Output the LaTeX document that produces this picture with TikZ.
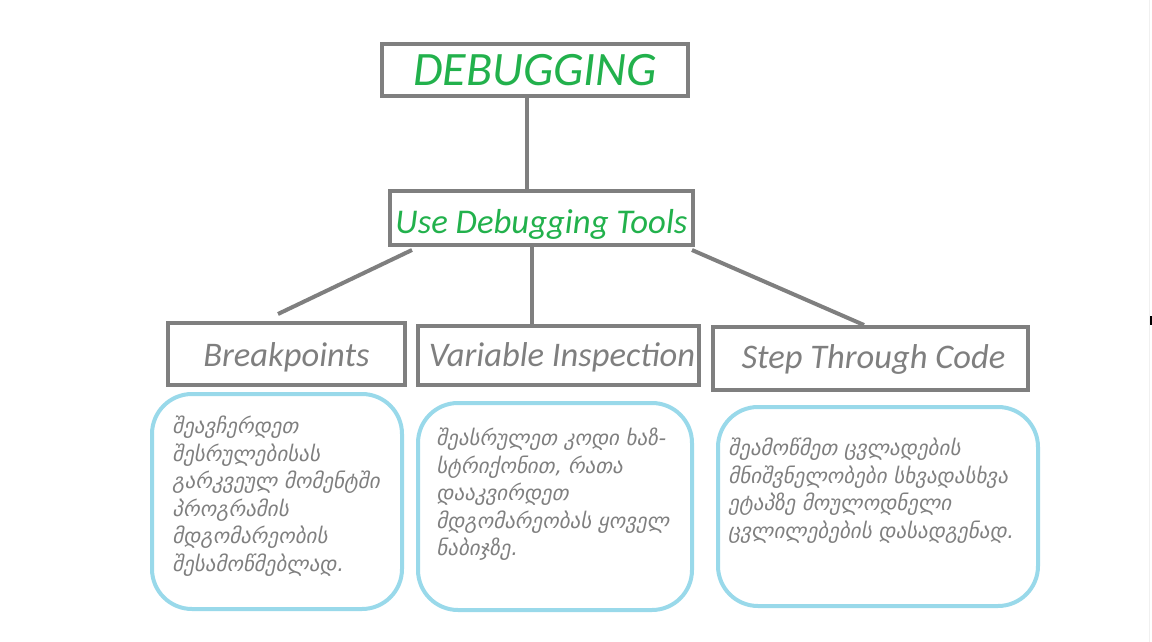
\documentclass[tikz,border=0pt]{standalone}
\usepackage{fontspec}
\setmainfont{Carlito}
\newfontfamily\geofont{DejaVu Sans}[FakeSlant=0.2]
\usetikzlibrary{calc}
\definecolor{framegray}{HTML}{7F7F7F}
\definecolor{titlegreen}{HTML}{22B14C}
\definecolor{noteblue}{HTML}{99D9EA}
\newcommand{\placenote}[4]{%
  \node[notebox, minimum width=#3, minimum height=#4] (#1) at #2 {};
}
\begin{document}
\begin{tikzpicture}[x=1pt, y=-1pt,
  framebox/.style={draw=framegray, line width=4pt, rectangle, inner sep=0pt, text depth=0pt},
  stepbox/.style={framebox, text=framegray, font=\fontsize{34.5}{40}\selectfont\itshape},
  notebox/.style={draw=noteblue, line width=4pt, rectangle, rounded corners=40pt, inner sep=0pt},
  notetext/.style={anchor=north west, align=left, inner sep=0pt, text=framegray,
    font=\geofont\fontsize{21}{27.5}\selectfont},
  link/.style={draw=framegray, line width=4pt}]

  \useasboundingbox (0,0) rectangle (1152,642);

  % Title and the tools box below it
  \node[framebox, minimum width=306pt, minimum height=52pt, text height=30pt, text=titlegreen,
    font=\fontsize{48}{52}\selectfont\itshape] (title) at (535,70) {DEBUGGING\hspace{22pt}};
  \node[framebox, minimum width=303pt, minimum height=54pt, text height=30pt, text=titlegreen,
    font=\fontsize{34.7}{40}\selectfont\itshape] (tools) at (541.5,218) {Use Debugging Tools};

  % The three steps
  \node[stepbox, minimum width=237pt, minimum height=62pt, text height=24pt] (brk) at (286.5,354) {Breakpoints\hspace{8pt}};
  \node[stepbox, minimum width=281pt, minimum height=59pt, text height=21pt] (var) at (558.5,355.5) {\hspace{7pt}Variable Inspection};
  \node[stepbox, minimum width=315pt, minimum height=63pt, text height=19pt] (stp) at (870.5,358.5) {\hspace{6pt}Step Through Code};

  % Rounded note boxes under the steps
  \placenote{brknote}{(277,501.5)}{250pt}{215pt}
  \placenote{varnote}{(555,506.5)}{274pt}{207pt}
  \placenote{stpnote}{(878,506.5)}{320pt}{199pt}

  \node[notetext] (brktext) at (172,416) {შეავჩერდეთ\\შესრულებისას\\გარკვეულ მომენტში\\პროგრამის\\მდგომარეობის\\შესამოწმებლად.};
  \node[notetext] (vartext) at (436,428) {შეასრულეთ კოდი ხაზ-\\სტრიქონით, რათა\\დააკვირდეთ\\მდგომარეობას ყოველ\\ნაბიჯზე.};
  \node[notetext] (stptext) at (728,438) {შეამოწმეთ ცვლადების\\მნიშვნელობები სხვადასხვა\\ეტაპზე მოულოდნელი\\ცვლილებების დასადგენად.};

  % Connectors
  \draw[link] (title.south -| 527,0) -- (tools.north -| 527,0);
  \draw[link] ($(tools.south west)+(24,3)$) -- ($(brk.north west)+(112,-7)$);
  \draw[link] (tools.south -| 532,0) -- (var.north -| 532,0);
  \draw[link] ($(tools.south east)+(-3,3)$) -- ($(stp.north west)+(153,0)$);

  % Page edge on the right
  \draw[line width=1pt, black!6] (1149,0) -- (1149,642);
  \draw[line width=2pt, black] (1151,316) -- (1151,325);
\end{tikzpicture}
\end{document}
